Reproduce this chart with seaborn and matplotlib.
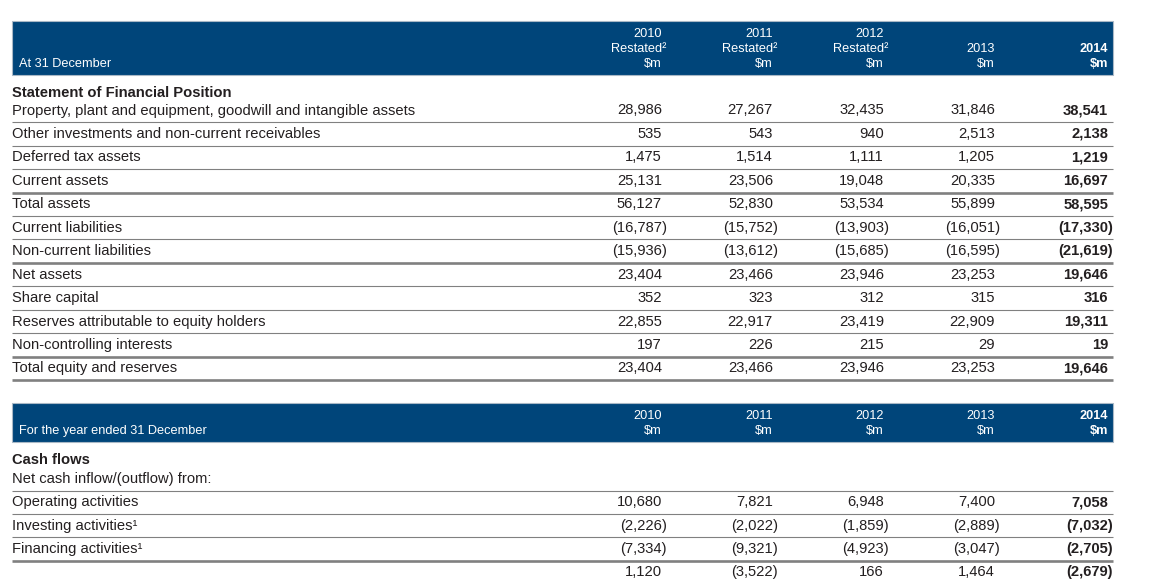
import matplotlib
matplotlib.use("Agg")
import matplotlib.pyplot as plt
from matplotlib.patches import Rectangle
import seaborn as sns

sns.set_theme(style="white")
plt.rcParams["font.family"] = ["Liberation Sans", "DejaVu Sans"]

# ---- data -------------------------------------------------------------
years = ["2010", "2011", "2012", "2013", "2014"]
restated = [True, True, True, False, False]

position_labels = [
    "Property, plant and equipment, goodwill and intangible assets",
    "Other investments and non-current receivables",
    "Deferred tax assets",
    "Current assets",
    "Total assets",
    "Current liabilities",
    "Non-current liabilities",
    "Net assets",
    "Share capital",
    "Reserves attributable to equity holders",
    "Non-controlling interests",
    "Total equity and reserves",
]
pos_2010 = [28986, 535, 1475, 25131, 56127, -16787, -15936, 23404, 352, 22855, 197, 23404]
pos_2011 = [27267, 543, 1514, 23506, 52830, -15752, -13612, 23466, 323, 22917, 226, 23466]
pos_2012 = [32435, 940, 1111, 19048, 53534, -13903, -15685, 23946, 312, 23419, 215, 23946]
pos_2013 = [31846, 2513, 1205, 20335, 55899, -16051, -16595, 23253, 315, 22909, 29, 23253]
pos_2014 = [38541, 2138, 1219, 16697, 58595, -17330, -21619, 19646, 316, 19311, 19, 19646]

cash_labels = [
    "Net cash inflow/(outflow) from:",
    "Operating activities",
    "Investing activities\u00b9",
    "Financing activities\u00b9",
    "",
]
cash_2010 = [None, 10680, -2226, -7334, 1120]
cash_2011 = [None, 7821, -2022, -9321, -3522]
cash_2012 = [None, 6948, -1859, -4923, 166]
cash_2013 = [None, 7400, -2889, -3047, 1464]
cash_2014 = [None, 7058, -7032, -2705, -2679]

pos_cols = [pos_2010, pos_2011, pos_2012, pos_2013, pos_2014]
cash_cols = [cash_2010, cash_2011, cash_2012, cash_2013, cash_2014]

# ---- layout / style ---------------------------------------------------
NAVY = "#00457a"
TEXT = "#231f20"
RULE = "#808080"
LEFT, RIGHT = 12, 1113
COL_X = [662, 773, 884, 995, 1108]
NEG_SHIFT = 5
BODY = 10.6
HEAD = 9.2


def fmt(v):
    return f"({abs(v):,})" if v < 0 else f"{v:,}"


def header(ax, top, height, caption, with_restated):
    ax.add_patch(Rectangle((LEFT, top), RIGHT - LEFT, height, facecolor=NAVY,
                           edgecolor="#a9b8c6", linewidth=0.8))
    bottom_y = top + height - 11
    ax.text(LEFT + 7, bottom_y, caption, color="white", fontsize=HEAD, va="center")
    for i, yr in enumerate(years):
        x = COL_X[i]
        weight = "bold" if i == len(years) - 1 else "normal"
        ax.text(x, bottom_y, "$m", color="white", fontsize=HEAD, ha="right",
                va="center", fontweight=weight)
        if with_restated and restated[i]:
            ax.text(x + 4, bottom_y - 15, "Restated\u00b2", color="white",
                    fontsize=HEAD, ha="right", va="center")
            ax.text(x, bottom_y - 30, yr, color="white", fontsize=HEAD,
                    ha="right", va="center")
        else:
            ax.text(x, bottom_y - 15, yr, color="white", fontsize=HEAD,
                    ha="right", va="center", fontweight=weight)


def body(ax, title, title_y, labels, cols, y0, step, thick):
    ax.text(LEFT, title_y, title, color=TEXT, fontsize=BODY, fontweight="bold",
            va="center")
    for r, lab in enumerate(labels):
        y = y0 + r * step
        if lab:
            ax.text(LEFT, y, lab, color=TEXT, fontsize=BODY, va="center")
        for c, col in enumerate(cols):
            v = col[r]
            if v is None:
                continue
            x = COL_X[c] + (NEG_SHIFT if v < 0 else 0)
            ax.text(x, y, fmt(v), color=TEXT, fontsize=BODY, ha="right",
                    va="center",
                    fontweight="bold" if c == len(cols) - 1 else "normal")
        if r < len(labels) - 1 or r in thick:
            ly = y + step / 2
            if ly < 579:
                ax.plot([LEFT, RIGHT], [ly, ly], color=RULE,
                        linewidth=1.9 if r in thick else 0.8,
                        solid_capstyle="butt")


fig = plt.figure(figsize=(11.53, 5.79), dpi=100)
ax = fig.add_axes([0, 0, 1, 1])
ax.set_xlim(0, 1153)
ax.set_ylim(579, 0)
ax.axis("off")

header(ax, 21, 54, "At 31 December", True)
body(ax, "Statement of Financial Position", 93, position_labels, pos_cols,
     110.5, 23.45, {3, 6, 10, 11})

header(ax, 403, 39, "For the year ended 31 December", False)
body(ax, "Cash flows", 460, cash_labels, cash_cols, 479, 23.3, {3})

fig.savefig("out.png", dpi=100)
